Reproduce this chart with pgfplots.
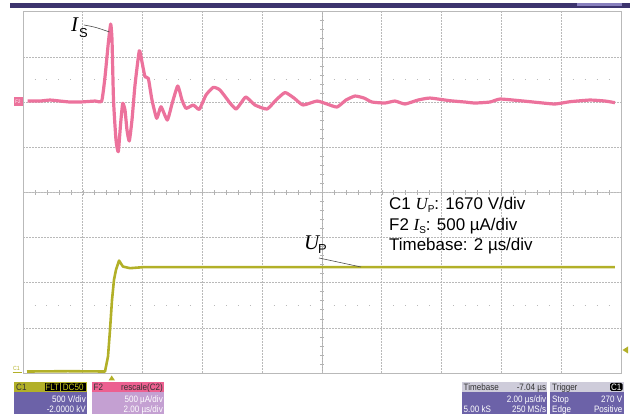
\documentclass[border=0pt]{standalone}
\usepackage{fontspec}
\setmainfont{Liberation Sans}
\newfontfamily\tms{Liberation Serif}
\newfontfamily\scp[FakeStretch=0.87]{Liberation Sans}
\usepackage{pgfplots}
\pgfplotsset{compat=1.18}

\definecolor{trIs}{RGB}{236,114,156}
\definecolor{trUp}{RGB}{178,176,40}
\definecolor{topbar}{RGB}{60,52,110}
\definecolor{topbox}{RGB}{136,128,190}
\definecolor{boxbody}{RGB}{108,98,168}
\definecolor{boxlight}{RGB}{196,160,210}
\definecolor{boxpink}{RGB}{236,96,144}
\definecolor{boxgray}{RGB}{206,204,218}
\definecolor{gridc}{RGB}{185,185,185}

\newcommand{\bx}{\fontsize{9.3}{9.3}\selectfont\scp}

\begin{document}
\begin{tikzpicture}
\useasboundingbox (0,0) rectangle (630bp,414bp);

% centre lines with their small ticks (pixel coordinates, y downwards)
\begin{scope}[x=1bp,y=-1bp,yshift=414bp]
  \draw[gray!45, line width=0.7bp] (23,192.4) -- (621,192.4);
  \draw[gray!65, line width=0.9bp] (322,11.7) -- (322,373);
  \foreach \k in {1,...,49}
    \draw[gray!60, line width=0.6bp] ({23+\k*11.96},190.2) -- ({23+\k*11.96},194.6);
  \foreach \k in {1,...,39}
    \draw[gray!60, line width=0.6bp] (319.8,{11.7+\k*9.033}) -- (324.2,{11.7+\k*9.033});
  \draw[gridc, line width=1bp, dash pattern=on 1bp off 10.96bp] (34.5,79.5) -- (621,79.5);
  \draw[gridc, line width=1bp, dash pattern=on 1bp off 10.96bp] (34.5,305.3) -- (621,305.3);
\end{scope}

\begin{axis}[at={(23bp,41bp)}, anchor=south west, scale only axis,
  width=598bp, height=361.3bp,
  xmin=0, xmax=20, ymin=-4, ymax=4,
  xtick={0,2,...,20}, ytick={-4,-3,...,4},
  xticklabels={}, yticklabels={}, major tick length=0pt,
  grid=major,
  major grid style={gridc, line width=0.65bp, dash pattern=on 2bp off 1bp},
  axis line style={gray!55, line width=0.8bp},
  clip=false]

% C1: U_P, time in us, position in divisions
\addplot[trUp, line width=2.6bp, line join=round] coordinates {
 (0.134,-3.967) (1.500,-3.960) (2.742,-3.967) (2.843,-3.635) (2.910,-3.044)
 (2.977,-2.381) (3.043,-1.938) (3.110,-1.717) (3.211,-1.511) (3.344,-1.644)
 (3.579,-1.679) (4.013,-1.657) (7.592,-1.657) (12.609,-1.657) (19.799,-1.657)
};

% F2: I_S
\addplot[trIs, line width=3.2bp, line join=round, smooth, tension=0.3] coordinates {
 (0.157,2.022) (0.569,2.022) (0.903,2.044) (1.237,2.022) (1.572,2.000)
 (1.906,2.000) (2.408,2.022) (2.632,2.022) (2.742,2.553) (2.853,3.305)
 (2.933,3.726) (2.977,3.372) (3.027,2.044) (3.110,1.159) (3.187,0.900)
 (3.261,1.491) (3.334,1.971) (3.411,1.823) (3.478,1.381) (3.555,1.137)
 (3.645,1.602) (3.746,2.376) (3.890,3.135) (3.980,2.885) (4.080,2.560)
 (4.191,2.524) (4.314,2.044) (4.472,1.639) (4.615,1.896) (4.826,1.602)
 (4.983,1.956) (5.174,2.354) (5.318,2.044) (5.452,1.861) (5.696,1.934)
 (5.896,1.838) (6.120,2.155) (6.365,2.325) (6.589,2.265) (6.923,1.978)
 (7.124,1.845) (7.291,1.978) (7.458,2.111) (7.759,1.934) (8.161,1.845)
 (8.462,2.044) (8.763,2.210) (9.064,2.088) (9.365,1.934) (9.833,2.022)
 (10.167,1.956) (10.502,1.889) (10.803,2.044) (11.104,2.133) (11.405,2.088)
 (11.672,2.000) (12.107,1.978) (12.441,2.022) (12.776,1.956) (13.211,2.044)
 (13.612,2.088) (14.281,2.029) (14.783,2.000) (15.117,1.978) (15.619,2.000)
 (15.953,2.066) (16.622,2.029) (17.291,1.985) (17.793,1.956) (18.294,2.007)
 (18.963,2.044) (19.465,2.022) (19.799,1.985)
};
\end{axis}

\begin{scope}[x=1bp,y=-1bp,yshift=414bp]
  % top bar
  \fill[topbar] (10,3.3) rectangle (630,8.4);
  \fill[topbox] (577,2.8) rectangle (622,6.2);

  % trace markers
  \fill[trIs] (13.5,97) rectangle (22.5,106);
  \node[white, font=\fontsize{5}{5}\selectfont\scp, inner sep=0] at (18,101.5) {F2};
  \node[trUp, font=\fontsize{6}{6}\selectfont\scp, anchor=base west, inner sep=0] at (13,370.5) {C1};
  \draw[trUp, line width=0.8bp] (12.5,372.8) -- (22,372.8);
  \fill[trUp] (108.5,380.5) -- (115,380.5) -- (111.7,375.5) -- cycle;
  \fill[trUp] (622.5,350) -- (628,346.5) -- (628,353.5) -- cycle;

  % annotations
  \draw[black!70, line width=0.6bp] (84,25) .. controls (95,27) .. (109.5,32);
  \node[anchor=base west, inner sep=0, font=\fontsize{21}{21}\selectfont\tms\itshape] at (71,31.5) {I};
  \node[anchor=base west, inner sep=0, font=\fontsize{13}{13}\selectfont] at (79,37.6) {S};
  \draw[black!70, line width=0.6bp] (319,258) -- (361,267);
  \node[anchor=base west, inner sep=0, font=\fontsize{21}{21}\selectfont\tms\itshape] at (304,250) {U};
  \node[anchor=base west, inner sep=0, font=\fontsize{13}{13}\selectfont] at (318,253.3) {P};

  \node[anchor=base west, inner sep=0, font=\fontsize{17}{20}\selectfont] at (389,209.8)
    {C1 {\tms\itshape U}\raisebox{-3bp}{\fontsize{10}{10}\selectfont P}: 1670 V/div};
  \node[anchor=base west, inner sep=0, font=\fontsize{17}{20}\selectfont] at (389,230.5)
    {F2 {\tms\itshape I}\raisebox{-3bp}{\fontsize{10}{10}\selectfont S}: 500 µA/div};
  \node[anchor=base west, inner sep=0, font=\fontsize{17}{20}\selectfont] at (389,250.5)
    {Timebase: 2 µs/div};

  % C1 box
  \fill[boxbody] (14,391) rectangle (87,414);
  \fill[trUp] (14,381.7) rectangle (87,392);
  \node[anchor=base west, inner sep=0, font=\bx, black!80] at (16,390.3) {C1};
  \fill[black] (45,383) rectangle (59.5,391);
  \fill[black] (60.5,383) rectangle (86,391);
  \node[anchor=base, inner sep=0, font=\bx, trUp!60!yellow] at (52.2,390.3) {FLT};
  \node[anchor=base, inner sep=0, font=\bx, trUp!60!yellow] at (73.2,390.3) {DC50};
  \node[anchor=base east, inner sep=0, font=\bx, white] at (86,402.5) {500 V/div};
  \node[anchor=base east, inner sep=0, font=\bx, white] at (86,412.5) {-2.0000 kV};

  % F2 box
  \fill[boxlight] (91.7,391) rectangle (164,414);
  \fill[boxpink] (91.7,381.7) rectangle (164,392);
  \node[anchor=base west, inner sep=0, font=\bx, black!80] at (93.5,390.3) {F2};
  \node[anchor=base east, inner sep=0, font=\bx, black!80] at (163,390.3) {rescale(C2)};
  \node[anchor=base east, inner sep=0, font=\bx, white] at (163,402.5) {500 µA/div};
  \node[anchor=base east, inner sep=0, font=\bx, white] at (163,412.5) {2.00 µs/div};

  % Timebase box
  \fill[boxbody] (461.7,391) rectangle (547.3,414);
  \fill[boxgray] (461.7,381.7) rectangle (547.3,392);
  \node[anchor=base west, inner sep=0, font=\bx, black!80] at (463.5,390.3) {Timebase};
  \node[anchor=base east, inner sep=0, font=\bx, black!80] at (546.3,390.3) {-7.04 µs};
  \node[anchor=base east, inner sep=0, font=\bx, white] at (546.3,402.5) {2.00 µs/div};
  \node[anchor=base west, inner sep=0, font=\bx, white] at (463.5,412.5) {5.00 kS};
  \node[anchor=base east, inner sep=0, font=\bx, white] at (546.3,412.5) {250 MS/s};

  % Trigger box
  \fill[boxbody] (550,391) rectangle (624,414);
  \fill[boxgray] (550,381.7) rectangle (624,392);
  \node[anchor=base west, inner sep=0, font=\bx, black!80] at (552,390.3) {Trigger};
  \fill[black, rounded corners=1.5bp] (610,383) rectangle (622.5,391);
  \node[anchor=base, inner sep=0, font=\bx, white] at (616.2,390.3) {C1};
  \node[anchor=base west, inner sep=0, font=\bx, white] at (552,402.5) {Stop};
  \node[anchor=base east, inner sep=0, font=\bx, white] at (622.5,402.5) {270 V};
  \node[anchor=base west, inner sep=0, font=\bx, white] at (552,412.5) {Edge};
  \node[anchor=base east, inner sep=0, font=\bx, white] at (622.5,412.5) {Positive};
\end{scope}
\end{tikzpicture}
\end{document}
